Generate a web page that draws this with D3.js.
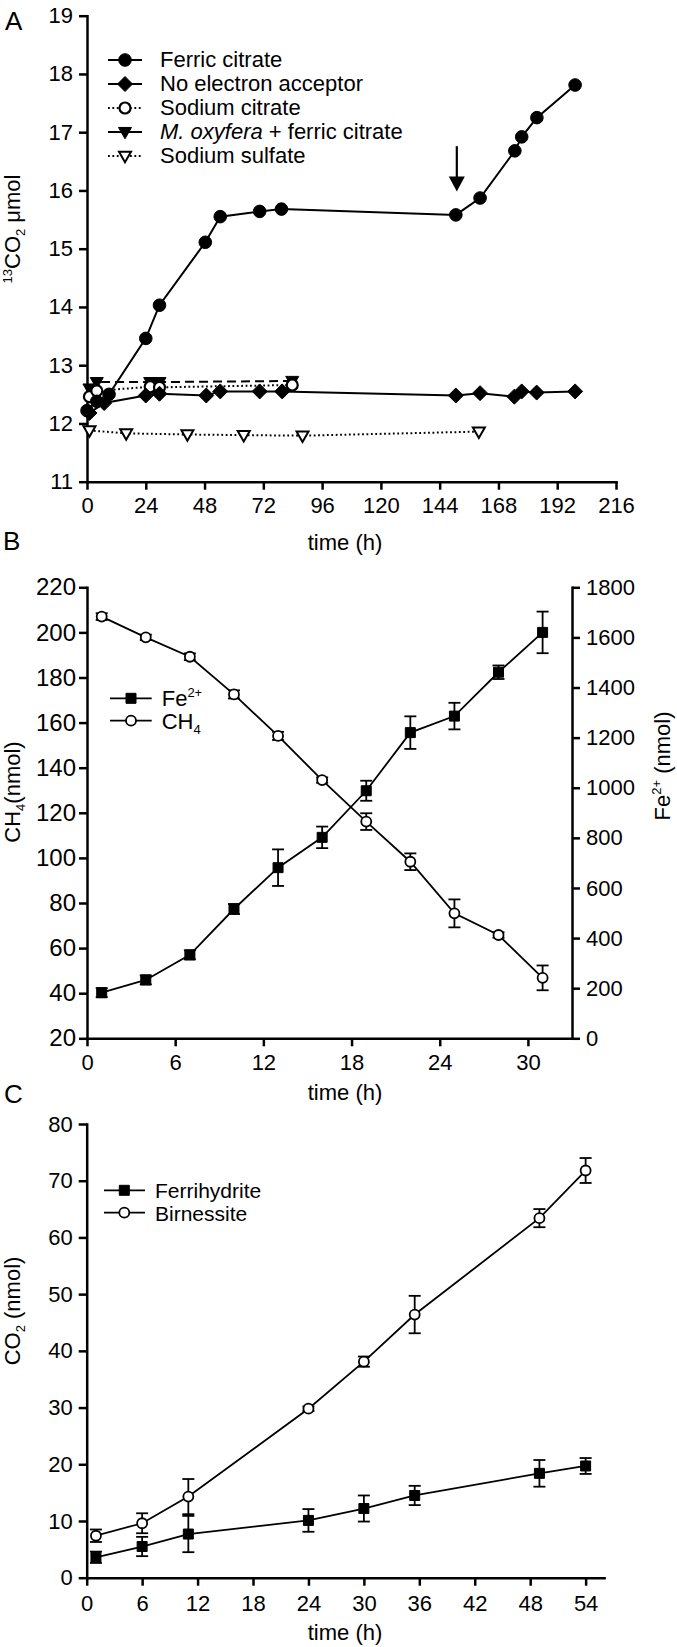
<!DOCTYPE html>
<html><head><meta charset="utf-8">
<script src="https://cdnjs.cloudflare.com/ajax/libs/d3/7.8.5/d3.min.js"></script>
<style>
body{margin:0;background:#fff}
svg{display:block}
text{font-family:"Liberation Sans",Arial,Helvetica,sans-serif;fill:#000;font-weight:normal}
</style>
</head><body>
<svg id="c" width="677" height="1647"></svg>
<script>
// ---------- Panel A data ----------
const aXTicks = [0,24,48,72,96,120,144,168,192,216];
const aYTicks = [11,12,13,14,15,16,17,18,19];
const ferricT = [0, 4, 9, 24, 29.6, 48.3, 54.4, 70.5, 79.4, 150.6, 160.5, 174.7, 177.5, 183.7, 199.3];
const ferricV = [12.22, 12.38, 12.5, 13.46, 14.03, 15.11, 15.55, 15.64, 15.68, 15.58, 15.87, 16.68, 16.92, 17.25, 17.81];
const noAccT = [1, 7, 24, 29.6, 48.7, 54.4, 70.5, 79.7, 150.6, 160.5, 174.5, 177.5, 183.6, 199.3];
const noAccV = [12.18, 12.35, 12.48, 12.51, 12.48, 12.55, 12.55, 12.55, 12.48, 12.52, 12.46, 12.55, 12.53, 12.55];
const naCitT = [1, 4, 25.8, 29.6, 83.8];
const naCitV = [12.46, 12.56, 12.63, 12.62, 12.66];
const moxT = [1, 4, 25.8, 29.6, 83.8];
const moxV = [12.6, 12.71, 12.71, 12.71, 12.73];
const naSulT = [1, 16, 41, 64, 88, 160];
const naSulV = [11.88, 11.83, 11.81, 11.8, 11.79, 11.86];
const aLegend = ["Ferric citrate","No electron acceptor","Sodium citrate","M. oxyfera + ferric citrate","Sodium sulfate"];
const arrowT = 151, arrowFrom = 16.76, arrowTo = 15.98;

// ---------- Panel B data ----------
const bXTicks = [0,6,12,18,24,30];
const bYLTicks = [20,40,60,80,100,120,140,160,180,200,220];
const bYRTicks = [0,200,400,600,800,1000,1200,1400,1600,1800];
const bTime = [1,4,7,10,13,16,19,22,25,28,31];
const ch4 = [207, 197.8, 189.2, 172.5, 154.1, 134.5, 116.1, 98.3, 75.4, 65.8, 46.8];
const ch4Err = [1.5, 1.2, 1.5, 1.8, 1.8, 1.2, 3.7, 3.7, 6.2, 1.2, 5.5];
const fe2 = [182, 233, 333, 516, 681, 802, 988, 1220, 1286, 1461, 1620];
const fe2Err = [18, 18, 18, 20, 73, 43, 40, 65, 53, 27, 83];

// ---------- Panel C data ----------
const cXTicks = [0,6,12,18,24,30,36,42,48,54];
const cYTicks = [0,10,20,30,40,50,60,70,80];
const cTime = [1, 6, 11, 24, 30, 35.5, 49, 54];
const birn = [7.4, 9.6, 14.3, 29.8, 38.1, 46.4, 63.4, 71.8];
const birnErr = [1.1, 1.76, 3.1, 0.4, 0.9, 3.3, 1.6, 2.2];
const ferri = [3.6, 5.5, 7.7, 10.1, 12.2, 14.5, 18.4, 19.7];
const ferriErr = [1.0, 1.7, 3.2, 2.0, 2.3, 1.7, 2.35, 1.4];

const FONT = '"Liberation Sans", Arial, Helvetica, sans-serif';
const svg = d3.select("#c");
svg.append("rect").attr("width",677).attr("height",1647).attr("fill","#fff");
const fmt = d3.format("d");

const MK = {
  circle: r => `M${-r},0A${r},${r} 0 1,0 ${r},0A${r},${r} 0 1,0 ${-r},0Z`,
  diamond: h => `M0,${-h}L${h},0L0,${h}L${-h},0Z`,
  triDown: s => `M${-s},${-s*0.7}L${s},${-s*0.7}L0,${s*1.05}Z`,
  square: s => `M${-s/2},${-s/2}h${s}v${s}h${-s}Z`
};

function styleAxis(g, fs){
  g.attr("font-size", fs || 22).attr("font-family", FONT);
  g.select(".domain").attr("stroke-width", 2.5).attr("stroke-linecap","square");
  g.selectAll(".tick line").attr("stroke-width", 2.5);
}

function drawLine(g, xs, ys, xS, yS, dash, w){
  const pts = xs.map((x,i)=>[xS(x), yS(ys[i])]);
  g.append("path").attr("d", d3.line()(pts)).attr("fill","none")
    .attr("stroke","#000").attr("stroke-width", w || 1.8)
    .attr("stroke-dasharray", dash || null);
}
function drawMarkers(g, xs, ys, xS, yS, d, filled, sw){
  g.selectAll(null).data(xs).enter().append("path")
    .attr("transform",(x,i)=>`translate(${xS(x)},${yS(ys[i])})`)
    .attr("d", d)
    .attr("fill", filled ? "#000" : "#fff")
    .attr("stroke","#000").attr("stroke-width", sw || 1.8);
}
function drawErr(g, xs, ys, es, xS, yS, cap){
  xs.forEach((x,i)=>{
    const px = xS(x), y1 = yS(ys[i]-es[i]), y2 = yS(ys[i]+es[i]);
    g.append("line").attr("x1",px).attr("x2",px).attr("y1",y1).attr("y2",y2).attr("stroke","#000").attr("stroke-width",1.8);
    [y1,y2].forEach(yy=>g.append("line").attr("x1",px-cap).attr("x2",px+cap).attr("y1",yy).attr("y2",yy).attr("stroke","#000").attr("stroke-width",1.8));
  });
}

// ================= Panel A =================
const xA = d3.scaleLinear().domain([0,216]).range([87,616]);
const yA = d3.scaleLinear().domain([11,19]).range([481.7,15.7]);
svg.append("g").attr("transform",`translate(0,${yA(11)})`)
  .call(d3.axisBottom(xA).tickValues(aXTicks).tickFormat(fmt).tickSize(8).tickSizeOuter(0).tickPadding(8)).call(styleAxis);
svg.append("g").attr("transform",`translate(${xA(0)},0)`)
  .call(d3.axisLeft(yA).tickValues(aYTicks).tickFormat(fmt).tickSize(8).tickSizeOuter(0).tickPadding(6)).call(styleAxis);

const gA = svg.append("g");
const DOT = "1.8,2.6";
drawLine(gA, naSulT, naSulV, xA, yA, DOT, 2);
drawLine(gA, naCitT, naCitV, xA, yA, DOT, 2);
drawLine(gA, moxT, moxV, xA, yA, "9,5", 2);
drawLine(gA, noAccT, noAccV, xA, yA, null, 2);
drawLine(gA, ferricT, ferricV, xA, yA, null, 2);
drawMarkers(gA, naSulT, naSulV, xA, yA, MK.triDown(6), false, 2);
drawMarkers(gA, moxT, moxV, xA, yA, MK.triDown(6.5), true, 1);
drawMarkers(gA, naCitT, naCitV, xA, yA, MK.circle(5.5), false, 2.2);
drawMarkers(gA, noAccT, noAccV, xA, yA, MK.diamond(7.5), true, 1);
drawMarkers(gA, ferricT, ferricV, xA, yA, MK.circle(6.3), true, 1);

// arrow
{
  const ax = xA(arrowT);
  gA.append("line").attr("x1",ax).attr("x2",ax).attr("y1",yA(arrowFrom)).attr("y2",yA(arrowTo)-10)
    .attr("stroke","#000").attr("stroke-width",2.2);
  const tip = yA(arrowTo);
  gA.append("path").attr("d",`M${ax-8},${tip-15}L${ax+8},${tip-15}L${ax},${tip}Z`).attr("fill","#000");
}

// legend A
{
  const rows = [60, 84, 108, 132, 156];
  const lx1 = 108, lx2 = 142, sx = 125, tx = 160;
  const specs = [
    {dash:null, d:MK.circle(6.3), f:true, sw:1},
    {dash:null, d:MK.diamond(7.5), f:true, sw:1},
    {dash:DOT, d:MK.circle(5.5), f:false, sw:2.2},
    {dash:null, d:MK.triDown(6.5), f:true, sw:1},
    {dash:DOT, d:MK.triDown(6), f:false, sw:2},
  ];
  specs.forEach((s,i)=>{
    const y = rows[i];
    gA.append("line").attr("x1",lx1).attr("x2",lx2).attr("y1",y).attr("y2",y)
      .attr("stroke","#000").attr("stroke-width",2).attr("stroke-dasharray",s.dash);
    gA.append("path").attr("transform",`translate(${sx},${y})`).attr("d",s.d)
      .attr("fill",s.f?"#000":"#fff").attr("stroke","#000").attr("stroke-width",s.sw);
    const t = gA.append("text").attr("x",tx).attr("y",y+7).attr("font-size",22);
    if(i===3){
      t.append("tspan").attr("font-style","italic").text("M. oxyfera");
      t.append("tspan").text(" + ferric citrate");
    } else t.text(aLegend[i]);
  });
}
svg.append("text").attr("x",5).attr("y",30).attr("font-size",26).text("A");
{
  const t = svg.append("text").attr("transform","translate(20,229) rotate(-90)").attr("text-anchor","middle").attr("font-size",22);
  t.append("tspan").attr("font-size",13).attr("dy",-8).text("13");
  t.append("tspan").attr("dy",8).text("CO");
  t.append("tspan").attr("font-size",13).attr("dy",5).text("2");
  t.append("tspan").attr("dy",-5).text(" \u03BCmol");
}
svg.append("text").attr("x",345).attr("y",550).attr("text-anchor","middle").attr("font-size",22).text("time (h)");

// ================= Panel B =================
const xB = d3.scaleLinear().domain([0,33]).range([87,572]);
const yBL = d3.scaleLinear().domain([20,220]).range([1038.3,587.3]);
const yBR = d3.scaleLinear().domain([0,1800]).range([1038.3,587.3]);
svg.append("g").attr("transform",`translate(0,${yBL(20)})`)
  .call(d3.axisBottom(xB).tickValues(bXTicks).tickFormat(fmt).tickSize(8).tickSizeOuter(0).tickPadding(8)).call(styleAxis);
svg.append("g").attr("transform",`translate(${xB(0)},0)`)
  .call(d3.axisLeft(yBL).tickValues(bYLTicks).tickFormat(fmt).tickSize(8).tickSizeOuter(0).tickPadding(3)).call(g=>styleAxis(g,24));
svg.append("g").attr("transform",`translate(${xB(33)},0)`)
  .call(d3.axisRight(yBR).tickValues(bYRTicks).tickFormat(fmt).tickSize(8).tickSizeOuter(0).tickPadding(6)).call(styleAxis);

const gB = svg.append("g");
drawLine(gB, bTime, fe2, xB, yBR);
drawLine(gB, bTime, ch4, xB, yBL);
drawErr(gB, bTime, fe2, fe2Err, xB, yBR, 6);
drawErr(gB, bTime, ch4, ch4Err, xB, yBL, 6);
drawMarkers(gB, bTime, fe2, xB, yBR, MK.square(10), true, 1);
drawMarkers(gB, bTime, ch4, xB, yBL, MK.circle(5), false, 1.8);
{
  const rows = [698.3, 720.7];
  const lx1=110, lx2=151.7, sx=131, tx=161.7;
  rows.forEach((y,i)=>{
    gB.append("line").attr("x1",lx1).attr("x2",lx2).attr("y1",y).attr("y2",y).attr("stroke","#000").attr("stroke-width",1.8);
    gB.append("path").attr("transform",`translate(${sx},${y})`).attr("d", i===0?MK.square(10):MK.circle(5))
      .attr("fill", i===0?"#000":"#fff").attr("stroke","#000").attr("stroke-width", i===0?1:1.8);
  });
  const t1 = gB.append("text").attr("x",tx).attr("y",rows[0]+8).attr("font-size",22);
  t1.append("tspan").text("Fe");
  t1.append("tspan").attr("font-size",13).attr("dy",-9).text("2+");
  const t2 = gB.append("text").attr("x",tx).attr("y",rows[1]+8).attr("font-size",22);
  t2.append("tspan").text("CH");
  t2.append("tspan").attr("font-size",13).attr("dy",5).text("4");
}
svg.append("text").attr("x",3).attr("y",550).attr("font-size",26).text("B");
{
  const t = svg.append("text").attr("transform","translate(20,792) rotate(-90)").attr("text-anchor","middle").attr("font-size",22);
  t.append("tspan").text("CH");
  t.append("tspan").attr("font-size",13).attr("dy",5).text("4");
  t.append("tspan").attr("dy",-5).text("(nmol)");
}
{
  const t = svg.append("text").attr("transform","translate(670,766) rotate(-90)").attr("text-anchor","middle").attr("font-size",22);
  t.append("tspan").text("Fe");
  t.append("tspan").attr("font-size",13).attr("dy",-9).text("2+");
  t.append("tspan").attr("dy",9).text(" (nmol)");
}
svg.append("text").attr("x",345).attr("y",1100).attr("text-anchor","middle").attr("font-size",22).text("time (h)");

// ================= Panel C =================
const xC = d3.scaleLinear().domain([0,56]).range([86.7,604.1]);
const yC = d3.scaleLinear().domain([0,80]).range([1577.7,1124]);
svg.append("g").attr("transform",`translate(0,${yC(0)})`)
  .call(d3.axisBottom(xC).tickValues(cXTicks).tickFormat(fmt).tickSize(8).tickSizeOuter(0).tickPadding(10)).call(styleAxis);
svg.append("g").attr("transform",`translate(${xC(0)},0)`)
  .call(d3.axisLeft(yC).tickValues(cYTicks).tickFormat(fmt).tickSize(8).tickSizeOuter(0).tickPadding(6)).call(styleAxis);

const gC = svg.append("g");
drawLine(gC, cTime, birn, xC, yC);
drawLine(gC, cTime, ferri, xC, yC);
drawErr(gC, cTime, birn, birnErr, xC, yC, 6);
drawErr(gC, cTime, ferri, ferriErr, xC, yC, 6);
drawMarkers(gC, cTime, ferri, xC, yC, MK.square(10), true, 1);
drawMarkers(gC, cTime, birn, xC, yC, MK.circle(5), false, 1.8);
{
  const rows = [1190.3, 1212.7];
  const lx1=104, lx2=145, sx=124.3, tx=155;
  const names = ["Ferrihydrite","Birnessite"];
  rows.forEach((y,i)=>{
    gC.append("line").attr("x1",lx1).attr("x2",lx2).attr("y1",y).attr("y2",y).attr("stroke","#000").attr("stroke-width",1.8);
    gC.append("path").attr("transform",`translate(${sx},${y})`).attr("d", i===0?MK.square(10):MK.circle(5))
      .attr("fill", i===0?"#000":"#fff").attr("stroke","#000").attr("stroke-width", i===0?1:1.8);
    gC.append("text").attr("x",tx).attr("y",y+8).attr("font-size",21).text(names[i]);
  });
}
svg.append("text").attr("x",4).attr("y",1103).attr("font-size",26).text("C");
{
  const t = svg.append("text").attr("transform","translate(20,1311) rotate(-90)").attr("text-anchor","middle").attr("font-size",22);
  t.append("tspan").text("CO");
  t.append("tspan").attr("font-size",13).attr("dy",5).text("2");
  t.append("tspan").attr("dy",-5).text(" (nmol)");
}
svg.append("text").attr("x",345).attr("y",1640).attr("text-anchor","middle").attr("font-size",22).text("time (h)");
</script>
</body></html>
